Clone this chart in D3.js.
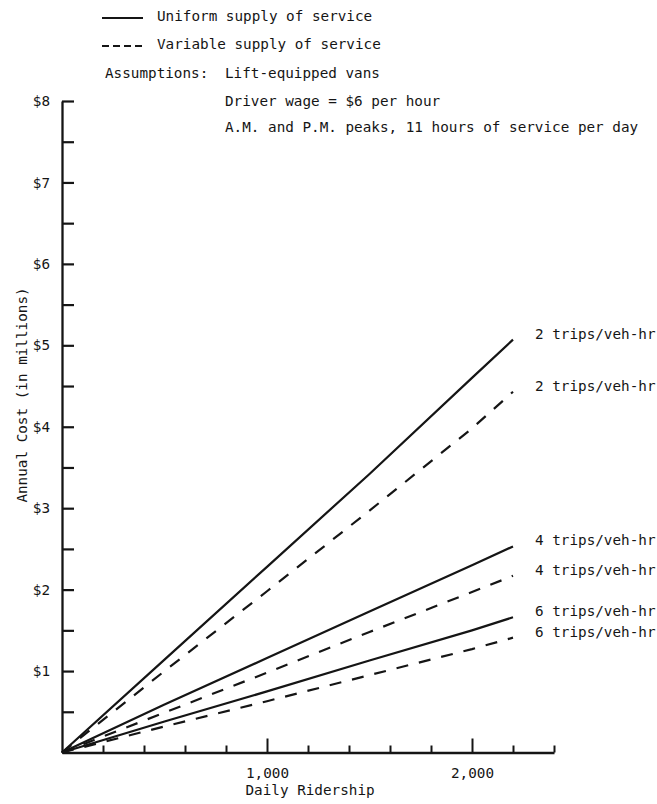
<!DOCTYPE html>
<html>
<head>
<meta charset="utf-8">
<script src="https://cdn.jsdelivr.net/npm/d3@7/dist/d3.min.js"></script>
<style>
  html, body { margin: 0; padding: 0; background: #ffffff; }
  svg { display: block; }
  text { font-family: "DejaVu Sans Mono", "Liberation Mono", monospace; fill: #151515; }
</style>
</head>
<body>
<svg id="chart" width="657" height="804"></svg>
<script>
// Daily ridership (x) against annual cost in $ millions (y)
const ridership = [0, 500, 1000, 1500, 2000, 2200];

const uniform2  = [0, 1.14, 2.28, 3.42, 4.60, 5.07];
const variable2 = [0, 1.00, 1.98, 2.97, 3.98, 4.43];
const uniform4  = [0, 0.59, 1.16, 1.73, 2.30, 2.53];
const variable4 = [0, 0.49, 0.98, 1.48, 1.97, 2.17];
const uniform6  = [0, 0.38, 0.75, 1.13, 1.50, 1.66];
const variable6 = [0, 0.32, 0.63, 0.95, 1.27, 1.41];

const seriesNames = ["2 trips/veh-hr", "2 trips/veh-hr", "4 trips/veh-hr",
                     "4 trips/veh-hr", "6 trips/veh-hr", "6 trips/veh-hr"];
const seriesValues = [uniform2, variable2, uniform4, variable4, uniform6, variable6];
const seriesDashed = [false, true, false, true, false, true];

const xTicks = [200, 400, 600, 800, 1000, 1200, 1400, 1600, 1800, 2000, 2200, 2400];
const xMajor = [1000, 2000];
const xTickLabels = ["1,000", "2,000"];
const yTicks = [0.5, 1, 1.5, 2, 2.5, 3, 3.5, 4, 4.5, 5, 5.5, 6, 6.5, 7, 7.5, 8];
const yTickLabels = ["$1", "$2", "$3", "$4", "$5", "$6", "$7", "$8"];

const legendItems = ["Uniform supply of service", "Variable supply of service"];
const assumptionsTitle = "Assumptions:";
const assumptions = ["Lift-equipped vans", "Driver wage = $6 per hour",
                     "A.M. and P.M. peaks, 11 hours of service per day"];

const ink = "#151515";
const fontSize = 14.3;
const dash = "12,11";

const svg = d3.select("#chart");

const x = d3.scaleLinear().domain([0, 2400]).range([62, 554]);
const y = d3.scaleLinear().domain([0, 8]).range([752.5, 101]);

// Y axis: ticks point inward, dollar labels at whole millions
const yAxis = d3.axisLeft(y)
  .tickValues(yTicks)
  .tickSize(-12)
  .tickSizeOuter(0)
  .tickPadding(12)
  .tickFormat(d => Number.isInteger(d) ? yTickLabels[d - 1] : "");

const gy = svg.append("g").attr("transform", `translate(${x(0)},0)`).call(yAxis);
gy.select(".domain").attr("stroke", ink).attr("stroke-width", 2.3);
gy.selectAll(".tick line").attr("stroke", ink).attr("stroke-width", 2.2);
gy.selectAll(".tick text")
  .style("font-family", "DejaVu Sans Mono")
  .style("font-size", fontSize + "px")
  .attr("fill", ink);

// X axis: short ticks every 200 riders, taller ticks at the thousands
const xAxis = d3.axisBottom(x)
  .tickValues(xTicks)
  .tickSize(-7)
  .tickSizeOuter(0)
  .tickPadding(15)
  .tickFormat(d => {
    const i = xMajor.indexOf(d);
    return i >= 0 ? xTickLabels[i] : "";
  });

const gx = svg.append("g").attr("transform", `translate(0,${y(0)})`).call(xAxis);
gx.select(".domain").attr("stroke", ink).attr("stroke-width", 2.3);
gx.selectAll(".tick line")
  .attr("stroke", ink).attr("stroke-width", 2)
  .attr("y2", d => xMajor.includes(d) ? -14 : -7);
gx.selectAll(".tick text")
  .style("font-family", "DejaVu Sans Mono")
  .style("font-size", fontSize + "px")
  .attr("fill", ink);

// Axis titles
svg.append("text")
  .attr("x", x(1000) - 21.5)
  .attr("y", 794.5)
  .style("font-size", fontSize + "px")
  .text("Daily Ridership");

svg.append("text")
  .attr("transform", `translate(27,395) rotate(-90)`)
  .attr("text-anchor", "middle")
  .style("font-size", fontSize + "px")
  .text("Annual Cost (in millions)");

// Cost curves
const line = d3.line()
  .x((d, i) => x(ridership[i]))
  .y(d => y(d));

seriesValues.forEach((vals, k) => {
  svg.append("path")
    .datum(vals)
    .attr("d", line)
    .attr("fill", "none")
    .attr("stroke", ink)
    .attr("stroke-width", 2.2)
    .attr("stroke-dasharray", seriesDashed[k] ? dash : null);

  const last = vals.length - 1;
  svg.append("text")
    .attr("x", x(ridership[last]) + 22)
    .attr("y", y(vals[last]) - 1)
    .style("font-size", fontSize + "px")
    .text(seriesNames[k]);
});

// Legend
const legendY = [18, 46];
legendItems.forEach((label, k) => {
  svg.append("line")
    .attr("x1", 102).attr("x2", 143)
    .attr("y1", legendY[k]).attr("y2", legendY[k])
    .attr("stroke", ink).attr("stroke-width", 2.2)
    .attr("stroke-dasharray", k === 1 ? "7,4" : null);
  svg.append("text")
    .attr("x", 157)
    .attr("y", legendY[k] + 3)
    .style("font-size", fontSize + "px")
    .text(label);
});

// Assumptions block
svg.append("text")
  .attr("x", 105).attr("y", 78)
  .style("font-size", fontSize + "px")
  .text(assumptionsTitle);

const assumptionY = [78, 106, 132];
assumptions.forEach((t, k) => {
  svg.append("text")
    .attr("x", 225).attr("y", assumptionY[k])
    .style("font-size", fontSize + "px")
    .text(t);
});
</script>
</body>
</html>
